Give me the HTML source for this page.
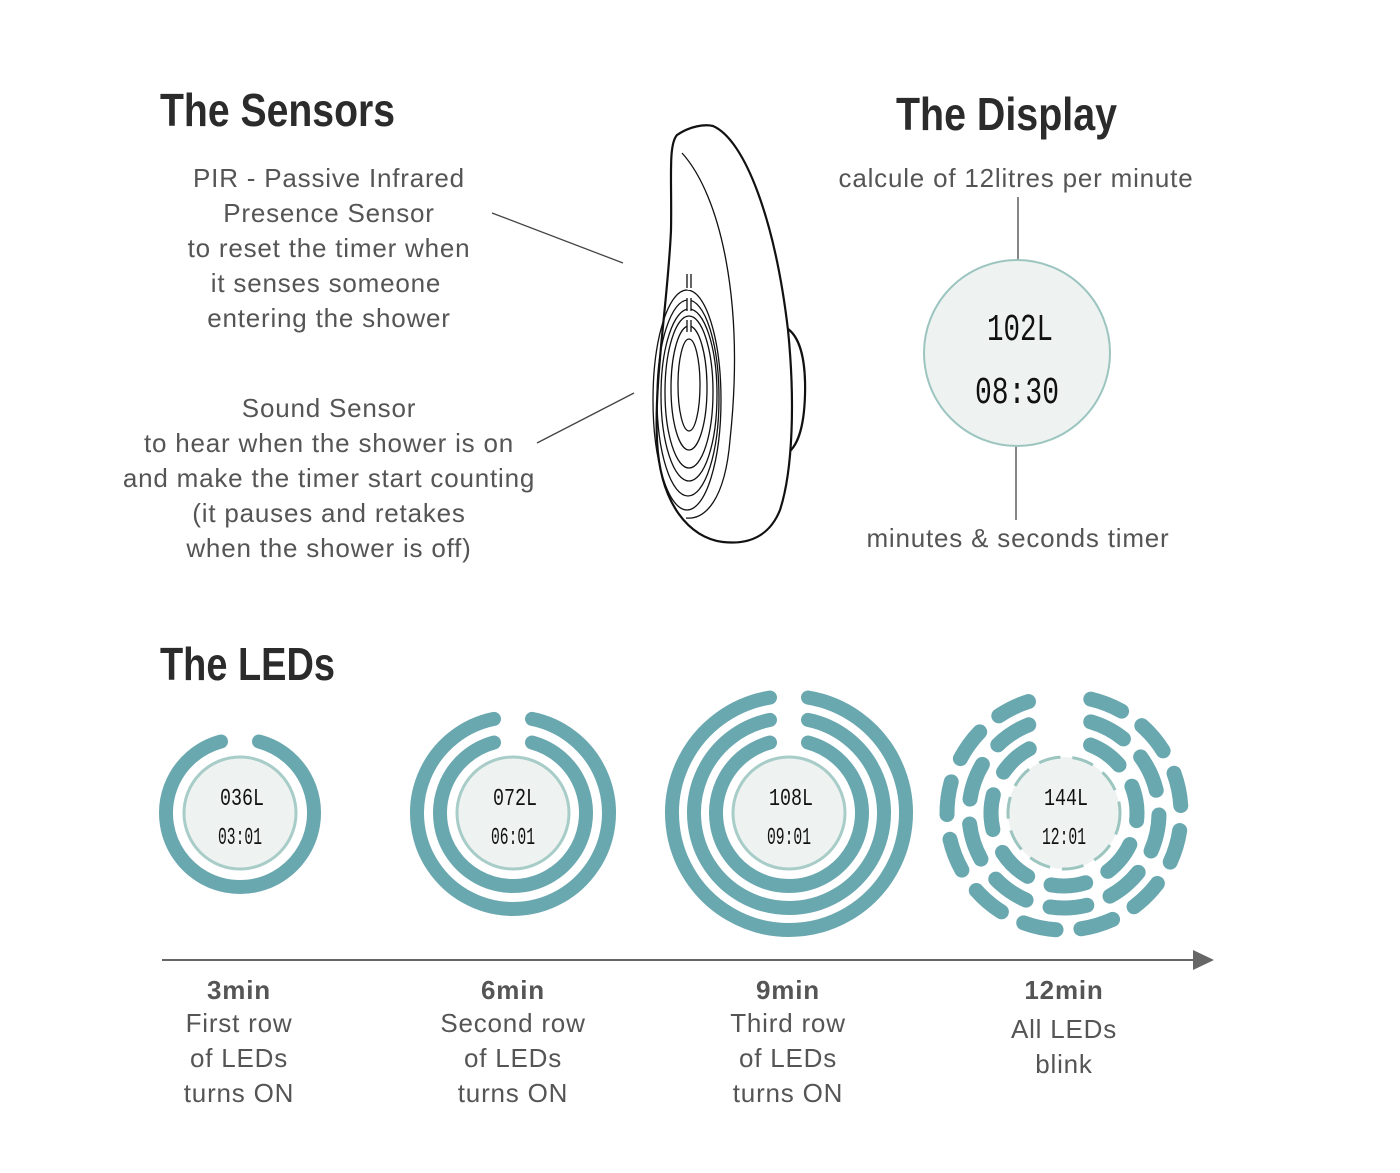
<!DOCTYPE html>
<html><head><meta charset="utf-8"><style>
html,body{margin:0;padding:0;background:#fff;}
svg{display:block}
.h{font-family:"Liberation Sans Narrow","Liberation Sans",sans-serif;font-weight:bold;font-size:46px;fill:#2b2b2b}
.t{font-family:"Liberation Sans",sans-serif;font-size:26px;letter-spacing:0.8px;fill:#555;text-anchor:middle}
.b{font-weight:bold}
.lcd{font-family:"Liberation Mono",monospace;fill:#111;text-anchor:middle}
</style></head><body>
<svg id="s" width="1400" height="1173" viewBox="0 0 1400 1173" xmlns="http://www.w3.org/2000/svg">
<text class="h" x="160" y="126" textLength="235" lengthAdjust="spacingAndGlyphs">The Sensors</text>
<text class="h" x="896" y="130" textLength="221" lengthAdjust="spacingAndGlyphs">The Display</text>
<text class="h" x="160" y="680" textLength="175" lengthAdjust="spacingAndGlyphs">The LEDs</text>

<g class="t">
<text x="329" y="187">PIR - Passive Infrared</text>
<text x="329" y="222">Presence Sensor</text>
<text x="329" y="257">to reset the timer when</text>
<text x="326" y="292">it senses someone</text>
<text x="329" y="327">entering the shower</text>
<text x="329" y="417">Sound Sensor</text>
<text x="329" y="452">to hear when the shower is on</text>
<text x="329" y="487">and make the timer start counting</text>
<text x="329" y="522">(it pauses and retakes</text>
<text x="329" y="557">when the shower is off)</text>
<text x="1016" y="187">calcule of 12litres per minute</text>
<text x="1018" y="547">minutes &amp; seconds timer</text>
</g>
<line x1="492" y1="213" x2="623" y2="263" stroke="#444" stroke-width="1.3"/>
<line x1="537" y1="443" x2="634" y2="393" stroke="#444" stroke-width="1.3"/>
<line x1="1018" y1="197" x2="1018" y2="280" stroke="#444" stroke-width="1.3"/>
<line x1="1016" y1="430" x2="1016" y2="520" stroke="#444" stroke-width="1.3"/>

<!-- device -->
<g fill="none" stroke="#111" stroke-width="2.2">
<path d="M785 327 C800 335 806 360 805 395 C804 430 797 448 785 455"/>
<path d="M677 135 C690 126 705 124 713 126 C745 140 775 220 788 330 C795 400 793 470 780 510 C770 535 750 545 723 542 C690 538 660 505 657 440 C654 380 668 300 671 230 C672 180 668 145 677 135 Z" fill="#fff"/>
</g>
<g fill="none" stroke="#111" stroke-width="1.3">
<path d="M682 153 C720 195 745 300 730 440 C725 500 705 520 686 518"/>
<ellipse cx="689" cy="385" rx="11" ry="46"/>
<ellipse cx="689" cy="388" rx="18" ry="62"/>
<ellipse cx="689" cy="392" rx="24" ry="76"/>
<ellipse cx="689" cy="395" rx="28" ry="86"/>
<ellipse cx="688" cy="398" rx="31" ry="98"/>
<ellipse cx="687" cy="400" rx="34" ry="110"/>
<line x1="689" y1="275" x2="689" y2="290" stroke="#fff" stroke-width="3"/>
<line x1="689" y1="298" x2="689" y2="312" stroke="#fff" stroke-width="3"/>
<line x1="689" y1="320" x2="689" y2="332" stroke="#fff" stroke-width="3"/>
<path d="M687 274 V288 M691 274 V288 M687 298 V311 M691 298 V311 M687 320 V332 M691 320 V332"/>
</g>

<!-- display -->
<circle cx="1017" cy="353" r="93" fill="#eef3f2" stroke="#9cc5c0" stroke-width="2"/>
<text class="lcd" x="1020" y="340" font-size="38" textLength="66" lengthAdjust="spacingAndGlyphs">102L</text>
<text class="lcd" x="1017" y="403" font-size="38" textLength="84" lengthAdjust="spacingAndGlyphs">08:30</text>

<g id="leds"></g>

<!-- axis -->
<line x1="162" y1="960" x2="1198" y2="960" stroke="#666" stroke-width="2"/>
<path d="M1193 950 L1214 960 L1193 970 Z" fill="#666"/>
<g class="t">
<text class="b" x="239" y="999">3min</text>
<text x="239" y="1032">First row</text><text x="239" y="1067">of LEDs</text><text x="239" y="1102">turns ON</text>
<text class="b" x="513" y="999">6min</text>
<text x="513" y="1032">Second row</text><text x="513" y="1067">of LEDs</text><text x="513" y="1102">turns ON</text>
<text class="b" x="788" y="999">9min</text>
<text x="788" y="1032">Third row</text><text x="788" y="1067">of LEDs</text><text x="788" y="1102">turns ON</text>
<text class="b" x="1064" y="999">12min</text>
<text x="1064" y="1038">All LEDs</text><text x="1064" y="1073">blink</text>
</g>
</svg>
<script>
(function(){
var g=document.getElementById('leds'),NS='http://www.w3.org/2000/svg',C='#6aa8b0';
function el(n,a){var e=document.createElementNS(NS,n);for(var k in a)e.setAttribute(k,a[k]);g.appendChild(e);return e;}
function arc(cx,cy,r,a1,a2){
 var p=function(a){a=a*Math.PI/180;return [cx+r*Math.sin(a),cy-r*Math.cos(a)];};
 var s=p(a1),e=p(a2),l=(a2-a1)>180?1:0;
 return 'M'+s[0].toFixed(2)+' '+s[1].toFixed(2)+' A'+r+' '+r+' 0 '+l+' 1 '+e[0].toFixed(2)+' '+e[1].toFixed(2);}
function ring(cx,cy,r,dash){
 var h=Math.asin(19/r)*180/Math.PI;
 if(!dash){el('path',{d:arc(cx,cy,r,h,360-h),fill:'none',stroke:C,'stroke-width':14,'stroke-linecap':'round'});return;}
 var circ=2*Math.PI*r*(360-2*h)/360, n=Math.round(circ/60); var step=(360-2*h)/n;
 var capDeg=8/r*180/Math.PI, gapDeg=9/r*180/Math.PI;
 for(var i=0;i<n;i++){var a=h+i*step; el('path',{d:arc(cx,cy,r,a+capDeg,a+step-capDeg-gapDeg),fill:'none',stroke:C,'stroke-width':15,'stroke-linecap':'round'});}
}
function inner(cx,cy,dash,t1,t2){
 var a={cx:cx,cy:cy,r:56,fill:'#eef3f2',stroke:'#a8cdc8','stroke-width':3};
 if(dash){a['stroke-dasharray']='22 12';a.stroke='#9cc5c0';}
 el('circle',a);
 var x=el('text',{'class':'lcd',x:cx+2,y:cy-8,'font-size':24,textLength:44,lengthAdjust:'spacingAndGlyphs'});x.textContent=t1;
 var y=el('text',{'class':'lcd',x:cx,y:cy+31,'font-size':24,textLength:44,lengthAdjust:'spacingAndGlyphs'});y.textContent=t2;
}
ring(240,813,74);inner(240,813,false,'036L','03:01');
ring(513,813,96);ring(513,813,73);inner(513,813,false,'072L','06:01');
ring(789,813,117);ring(789,813,95);ring(789,813,73);inner(789,813,false,'108L','09:01');
ring(1064,813,117,1);ring(1064,813,95,1);ring(1064,813,73,1);inner(1064,813,true,'144L','12:01');
})();
</script>
</body></html>
